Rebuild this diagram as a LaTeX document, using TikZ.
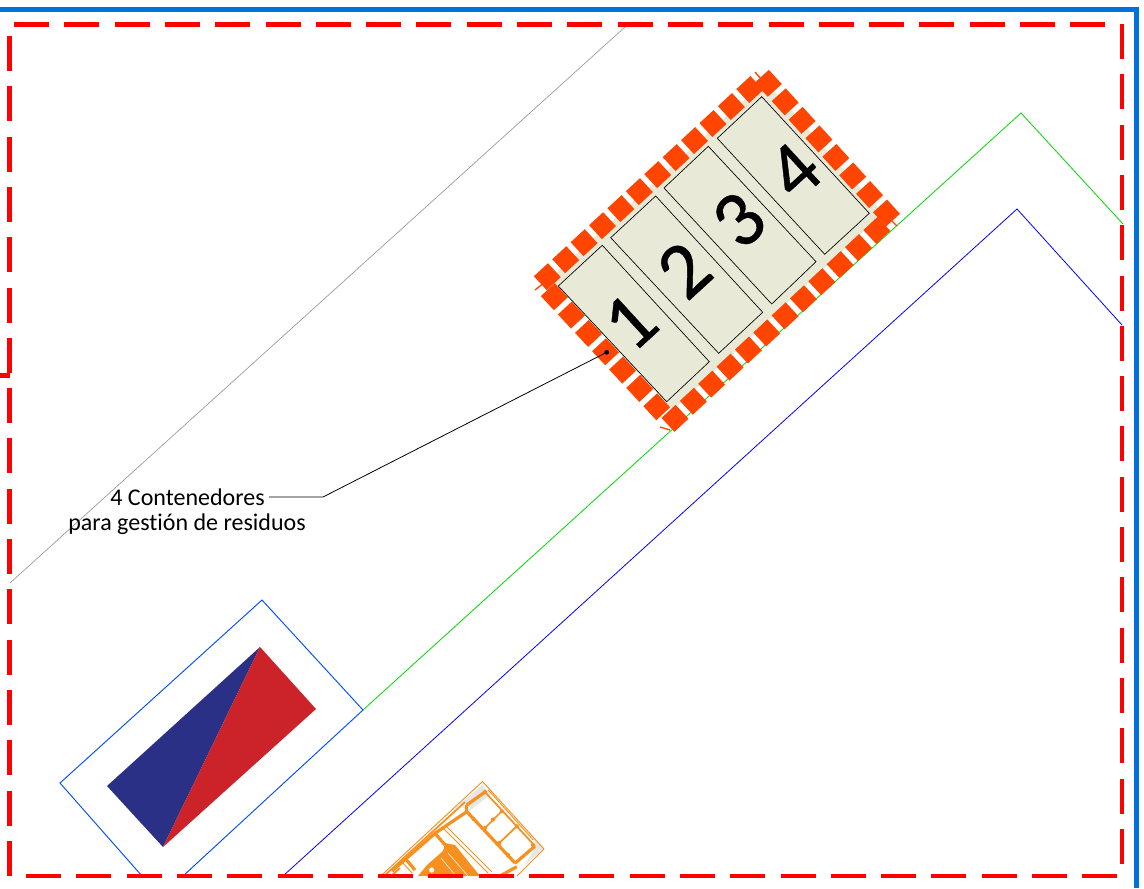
\documentclass[tikz,border=0pt]{standalone}
\usepackage{fontspec}
\setmainfont[Ligatures=NoCommon]{Carlito}
\newfontfamily\digitfont[BoldFont={Carlito},BoldFeatures={FakeBold=0.5}]{Carlito}
\usetikzlibrary{calc}
\definecolor{frameblue}{HTML}{0070DC}
\definecolor{redline}{HTML}{FF0000}
\definecolor{orangedash}{HTML}{FF4500}
\definecolor{beige}{HTML}{E9E9D8}
\definecolor{navy}{HTML}{2B3087}
\definecolor{redfill}{HTML}{CC2229}
\definecolor{machine}{HTML}{F7901E}
\definecolor{machgrey}{HTML}{E6E6E6}
\tikzset{
  x=0.75pt,y=-0.75pt,
  frameline/.style={frameblue,line width=3.6pt},
  reddash/.style={redline,line width=3.4pt,dash pattern=on 26.25pt off 11.475pt},
  orangeedge/.style={orangedash,line width=14.2pt,dash pattern=on 14.4pt off 4.4pt,shorten <=-7.2pt,shorten >=-7.2pt},
  orangebit/.style={orangedash,line width=1pt},
  container/.style={fill=beige,draw=black,line width=0.5pt,line join=miter},
  digit/.style={font=\digitfont\bfseries\fontsize{60}{60}\selectfont,rotate=42.5,inner sep=0pt},
  callout/.style={font=\fontsize{18}{20}\selectfont,inner sep=0pt},
  machthin/.style={machine,line width=0.7pt},
  machmid/.style={machine,line width=1.3pt},
  machthick/.style={machine,line width=2.4pt},
}
\begin{document}
\begin{tikzpicture}
\useasboundingbox (0,0) rectangle (1144,888);
\fill[white] (0,0) rectangle (1144,888);
% thin plan lines
\draw[gray!80,line width=0.5pt] (10,583) -- (625,27);
\draw[green!85!black,line width=0.6pt] (363,710) -- (1021,113) -- (1123,224);
\draw[blue,line width=0.6pt] (283,876) -- (1017,209) -- (1122,325);
% sign
\draw[blue!70!cyan,line width=0.7pt,line join=miter] (142,876) -- (60,783) -- (262,600) -- (363,710) -- (183,876);
\fill[navy] (260,647) -- (107,786) -- (163,847) -- cycle;
\fill[redfill] (260,647) -- (316,709) -- (163,847) -- cycle;
% machine
\begin{scope}
\clip (370,775) rectangle (550,876);
\fill[machgrey] (460,804) -- (482,785) -- (491,794) -- (468,812) -- cycle;
\fill[machgrey] (533,836) -- (543,849) -- (525,865) -- (536,846) -- cycle;
\draw[machthin,line join=miter] (380.7,876) -- (482.5,781.5) -- (544,849) -- (517,876);
\draw[machmid] (384,876) -- (465,802);
\draw[machthick] (392,871) -- (435,833.3) -- (466.7,811.7);
\draw[machthick] (466.7,805) -- (485,792);
\draw[machthick] (466.7,811.5) -- (515,863);
\draw[machthick] (466.7,811.5) -- (466.7,805);
\draw[machmid] (485,792) -- (535,846);
\draw[machthin] (488.3,790) -- (533.3,840);
\draw[machthick] (535,846) -- (515,863.3);
\draw[machthick] (516.7,866.7) -- (500,876);
\draw[machmid] (501.7,811.3) -- (485,828);
\draw[machmid] (516.7,826.3) -- (499.3,843);
\foreach \p in {(501.7,811.3),(485,828),(516.7,826.3),(499.3,843),(473.5,819),(508,855),(533,845),(485,792),(493,819.5)}
  \fill[machine] \p circle (1.6pt);
\draw[machthin] (443.3,828.3) -- (488.3,873.3);
\draw[machthin] (446.7,826.7) -- (491.7,871.7);
\draw[machthick] (435,833.3) -- (445,845);
\draw[machthick] (405,858.3) -- (415,870);
\fill[machine] (445,843) -- (455,845) -- (480,876) -- (418,876) -- (427,865) -- (443,851) -- cycle;
\draw[white,line width=0.4pt] (448,853) -- (468,876);
\draw[white,line width=0.4pt] (441,858) -- (456,876);
\draw[machine,line width=0.8pt,fill=white] (431.7,870) circle (2.5pt);
\draw[machthin] (395,867) -- (402,862) -- (412,873);
\draw[machmid] (391,876) -- (400,868);
\end{scope}
% frames
\draw[frameline] (0,9.5) -- (1136.5,9.5) -- (1136.5,888);
\draw[reddash] (14,24.5) -- (1106,24.5);
\draw[reddash] (1122,24) -- (1122,864);
\draw[reddash] (26,876) -- (1118,876);
\draw[reddash] (9.5,36) -- (9.5,877);
\draw[redline,line width=3.4pt] (0,375.5) -- (10,375.5);
% container yard
\fill[beige] (550,278) -- (765,81) -- (883,213) -- (673,410) -- cycle;
\draw[orangebit] (755,72) -- (762,80);
\draw[orangebit] (535,290) -- (545,282);
\draw[orangebit] (660,427) -- (670,430);
\draw[orangebit] (891,220) -- (897,226);
\draw[orangeedge] (547.3,276.7) -- (750,89.3);
\draw[orangeedge] (768.3,83.3) -- (886.7,213.3);
\draw[orangeedge] (675,418.3) -- (877.3,230);
\draw[orangeedge] (554.3,296.7) -- (656.7,406.7);
\draw[container] (602.3,245.3) -- (709.3,361.7) -- (666.7,401.7) -- (558.3,286) -- cycle;
\draw[container] (655.7,196) -- (762.7,312.3) -- (718.7,353.3) -- (610.7,237.7) -- cycle;
\draw[container] (708.3,146.3) -- (816,261.7) -- (771.7,304) -- (664,188) -- cycle;
\draw[container] (761.7,96.7) -- (869.3,213.3) -- (824.7,254.3) -- (717.3,138.3) -- cycle;
\node[digit] (d1) at (630,322) {1};
\node[digit] (d2) at (684,270) {2};
\node[digit] (d3) at (739,220) {3};
\node[digit] (d4) at (794,171) {4};
% callout
\node[callout,anchor=east] (lbla) at (265,497) {4 Contenedores};
\node[callout,anchor=center] (lblb) at (187,524) {para gestión de residuos};
\coordinate (tip) at (606.7,352.3);
\coordinate (knee) at (323,497);
\draw[black,line width=0.6pt] ([xshift=3pt]lbla.east) -- (knee) -- (tip);
\fill[black] (tip) circle (1.8pt);
\end{tikzpicture}
\end{document}
